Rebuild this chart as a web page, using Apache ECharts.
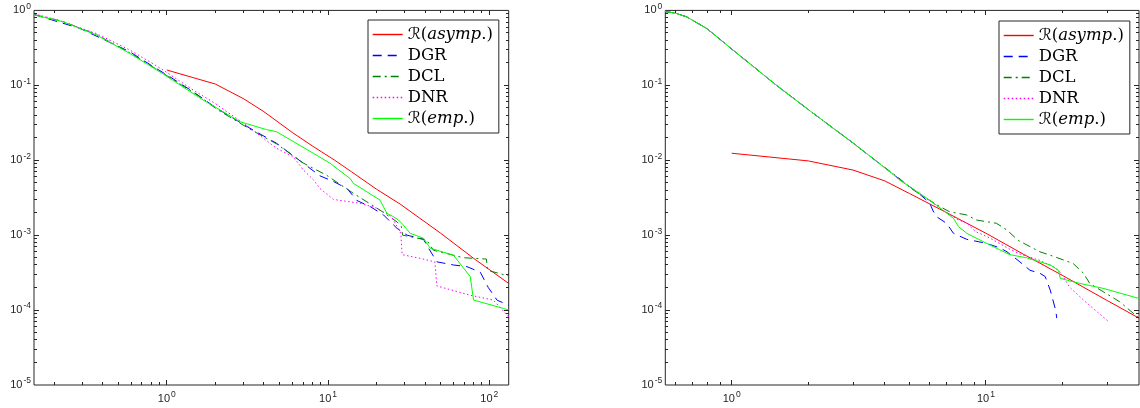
<!DOCTYPE html>
<html><head><meta charset="utf-8">
<script src="https://cdn.jsdelivr.net/npm/echarts@6/dist/echarts.min.js"></script>
<style>html,body{margin:0;padding:0;background:#fff}#c{width:1140px;height:408px}</style>
</head><body><div id="c"></div>
<script>
const seriesNames = ['ℛ(asymp.)', 'DGR', 'DCL', 'DNR', 'ℛ(emp.)'];

// ---- left panel ----
const leftAsymp = [[1,0.16],[2,0.104],[3,0.066],[4,0.0445],[6,0.0235],[8,0.0155],[11,0.0100],[14,0.0070],[20,0.0041],[28,0.0026],[50,0.00106],[80,0.00049],[132,0.000227]];
const leftDGR = [[0.15,0.88],[0.288,0.577],[0.589,0.281],[0.784,0.19],[1.044,0.13],[1.457,0.082],[2.04,0.0493],[3.28,0.0267],[4.8,0.0168],[7.03,0.0091],[8.9,0.0062],[10.8,0.0052],[13.1,0.0042],[15.1,0.0029],[18.3,0.0024],[22.1,0.00186],[26.8,0.00123],[30.9,0.001],[39.1,0.00088],[42,0.00067],[47.4,0.00044],[60,0.0004],[72.7,0.00038],[88,0.00032],[98.6,0.0002],[112,0.000135],[132,0.000117]];
const leftDCL = [[0.15,0.88],[0.227,0.71],[0.366,0.475],[0.589,0.272],[0.948,0.145],[1.68,0.066],[2.04,0.048],[3.28,0.026],[4.8,0.0165],[7,0.0092],[9.8,0.0063],[14.4,0.0036],[21,0.00216],[26.8,0.0015],[28.5,0.0013],[29,0.001],[41,0.00086],[45,0.00063],[69,0.0005],[96,0.00048],[97.5,0.00034],[132,0.000285]];
const leftDNR = [[0.15,0.9],[0.211,0.744],[0.366,0.49],[0.589,0.296],[0.784,0.206],[0.948,0.16],[1.457,0.0865],[1.99,0.0575],[3.28,0.027],[4.8,0.0144],[6.1,0.0111],[7.03,0.0074],[8.1,0.0055],[8.9,0.0042],[10.8,0.003],[15.8,0.00266],[20,0.0023],[24.8,0.00176],[28.3,0.00105],[28.8,0.00055],[37.3,0.00049],[46,0.00044],[47.3,0.00021],[76,0.000158],[106,0.000136],[132,0.000081]];
const leftEmp = [[0.15,0.87],[0.227,0.706],[0.366,0.47],[0.589,0.267],[0.948,0.142],[1.68,0.0636],[2.84,0.0327],[4.16,0.0256],[4.8,0.024],[8.1,0.0124],[10.3,0.0091],[13.7,0.0057],[14.4,0.0049],[21,0.00294],[23.2,0.00195],[25,0.0018],[27.3,0.0016],[29,0.0014],[32.3,0.00106],[39.1,0.00091],[43,0.00067],[60,0.00054],[76.2,0.00028],[79.9,0.000136],[123,0.000105],[132,0.0001]];

// ---- right panel ----
const rightAsymp = [[1,0.0124],[2,0.0098],[3,0.0074],[4,0.0053],[5,0.0036],[7,0.002],[10,0.00106],[14,0.00056],[20,0.00029],[30,0.000134],[40,0.000078]];
const rightDGR = [[0.548,0.965],[0.6,0.92],[0.665,0.82],[0.8,0.57],[0.9,0.41],[1.0,0.305],[1.5,0.10],[2.03,0.0457],[3,0.017],[4.19,0.00702],[4.6,0.0055],[5.5,0.0035],[6.0,0.0027],[6.2,0.0021],[6.4,0.00176],[7,0.00144],[7.45,0.00106],[8.4,0.00088],[10,0.00078],[11.3,0.00068],[12.1,0.0006],[13.6,0.00044],[14.9,0.00034],[16.3,0.00031],[17.1,0.00028],[17.9,0.000185],[18.8,0.0001],[19,0.000078]];
const rightDCL = [[0.548,0.965],[0.6,0.92],[0.665,0.82],[0.8,0.57],[0.9,0.41],[1.0,0.305],[1.5,0.10],[2.03,0.0457],[3,0.017],[4.19,0.0071],[4.6,0.0056],[5.03,0.0043],[5.5,0.0035],[6.6,0.0024],[7.2,0.00205],[8.4,0.00186],[9.2,0.00159],[11,0.00144],[12.1,0.00117],[13.4,0.00085],[16.3,0.0006],[17.9,0.00054],[22,0.00042],[24.2,0.00031],[25.6,0.000227],[28.9,0.000176],[33.6,0.000129],[40,0.000078]];
const rightDNR = [[0.548,0.965],[0.6,0.92],[0.665,0.82],[0.8,0.57],[0.9,0.41],[1.0,0.305],[1.5,0.10],[2.03,0.0457],[3,0.017],[4.19,0.00702],[4.6,0.0055],[5.5,0.0035],[6,0.0029],[7,0.002],[7.8,0.0016],[8.4,0.00145],[8.9,0.0012],[9.2,0.0011],[10.4,0.00091],[12.4,0.00065],[13.6,0.00056],[16.3,0.00046],[18.4,0.00038],[19.6,0.00032],[21.4,0.0002],[24.9,0.000125],[30.1,0.000072]];
const rightEmp = [[0.548,0.965],[0.6,0.92],[0.665,0.82],[0.8,0.57],[0.9,0.41],[1.0,0.305],[1.5,0.10],[2.03,0.0457],[3,0.017],[4.19,0.00702],[4.59,0.0054],[5.5,0.0036],[6.4,0.0025],[6.9,0.00205],[7.45,0.00168],[7.8,0.0013],[8.4,0.00106],[9.48,0.00086],[11.3,0.00064],[12.4,0.00055],[14.4,0.0005],[17.9,0.0004],[19.3,0.00034],[19.6,0.000265],[23.4,0.000227],[28.9,0.000195],[40,0.000143]];

// ---- axes / ticks ----
const leftXRange = [0.15, 132];
const rightXRange = [0.548, 40];
const yRange = [1e-5, 1];
const leftXDecades = [0.1, 1, 10, 100];
const rightXDecades = [0.1, 1, 10];
const yDecades = [1e-5, 1e-4, 1e-3, 1e-2, 1e-1];
const minorMultipliers = [2, 3, 4, 5, 6, 7, 8, 9];
const leftXTickExps = [0, 1, 2];
const rightXTickExps = [0, 1];
const yTickExps = [0, -1, -2, -3, -4, -5];

const colors = ['#ff0000', '#0000ff', '#008000', '#ff00ff', '#00ff00'];
const dashes = ['solid', [9, 6], [8, 4, 2, 4], [1.5, 2.5], 'solid'];
const axisColor = '#262626';
const sansFont = "'Liberation Sans', Arial, sans-serif";
const serifFont = "'DejaVu Serif', 'Liberation Serif', serif";

function expFormatter(exps) {
  return function (v) {
    const l = Math.log10(v);
    const e = Math.round(l);
    if (Math.abs(l - e) > 1e-6 || exps.indexOf(e) < 0) return '';
    return '{b|10}{s|' + e + '}';
  };
}
const labelRich = {
  b: { fontSize: 11, lineHeight: 17, fontFamily: sansFont, color: axisColor },
  s: { fontSize: 8.5, lineHeight: 9, verticalAlign: 'top', fontFamily: sansFont, color: axisColor, padding: [0, 0, 0, 1] }
};

function lineSeries(idx, arrays) {
  return arrays.map((arr, i) => ({
    type: 'line', name: seriesNames[i], xAxisIndex: idx, yAxisIndex: idx,
    data: arr, symbol: 'none', showSymbol: false, smooth: false, clip: true,
    lineStyle: { color: colors[i], width: 1, type: dashes[i] },
    itemStyle: { color: colors[i] },
    emphasis: { disabled: true }, z: 2 + i
  }));
}

function xAxisCfg(idx, xr, exps) {
  return {
    type: 'log', logBase: 10, gridIndex: idx, min: xr[0], max: xr[1],
    axisLine: { show: false }, axisTick: { show: false }, splitLine: { show: false },
    minorTick: { show: false }, minorSplitLine: { show: false },
    axisLabel: { show: true, margin: 5, formatter: expFormatter(exps), rich: labelRich, hideOverlap: false }
  };
}
function yAxisCfg(idx) {
  return {
    type: 'log', logBase: 10, gridIndex: idx, min: yRange[0], max: yRange[1],
    axisLine: { show: false }, axisTick: { show: false }, splitLine: { show: false },
    minorTick: { show: false }, minorSplitLine: { show: false },
    axisLabel: { show: true, margin: 3, formatter: expFormatter(yTickExps), rich: labelRich, hideOverlap: false }
  };
}

const legendText = {
  fontFamily: serifFont, fontSize: 16.5, lineHeight: 17, color: '#000',
  rich: {
    it: { fontFamily: serifFont, fontStyle: 'italic', fontSize: 16.5, lineHeight: 17, color: '#000' },
    cal: { fontFamily: "'DejaVu Serif', 'DejaVu Sans', serif", fontStyle: 'italic', fontSize: 16.5, lineHeight: 17, color: '#000' },
    r: { fontFamily: serifFont, fontSize: 16.5, lineHeight: 17, color: '#000' }
  }
};
function legendFormatter(name) {
  if (name.charAt(0) === 'ℛ') {
    const inner = name.slice(2, name.length - 2);
    return '{cal|ℛ}{r|(}{it|' + inner + '}{r|.)}';
  }
  return '{r|' + name + '}';
}
function legendCfg(left, top) {
  return {
    data: seriesNames, orient: 'vertical', left: left, top: top,
    itemWidth: 30, itemHeight: 10, itemGap: 4, padding: [6, 6, 6, 4],
    borderColor: axisColor, borderWidth: 1, backgroundColor: '#fff', borderRadius: 0,
    selectedMode: false, textStyle: legendText, formatter: legendFormatter,
    itemStyle: { opacity: 0, borderWidth: 0 },
    lineStyle: { width: 1.4 }, z: 30
  };
}

const chart = echarts.init(document.getElementById('c'), null, { renderer: 'canvas' });
chart.setOption({
  animation: false,
  backgroundColor: '#fff',
  grid: [
    { left: 34, top: 10.4, width: 474.7, height: 374.6, show: true, borderColor: axisColor, borderWidth: 1, backgroundColor: 'transparent', containLabel: false, outerBoundsMode: 'none' },
    { left: 665.3, top: 10.4, width: 473.7, height: 374.6, show: true, borderColor: axisColor, borderWidth: 1, backgroundColor: 'transparent', containLabel: false, outerBoundsMode: 'none' }
  ],
  xAxis: [xAxisCfg(0, leftXRange, leftXTickExps), xAxisCfg(1, rightXRange, rightXTickExps)],
  yAxis: [yAxisCfg(0), yAxisCfg(1)],
  legend: [legendCfg(368, 20), legendCfg(999, 21)],
  tooltip: { show: false },
  series: []
    .concat(lineSeries(0, [leftAsymp, leftDGR, leftDCL, leftDNR, leftEmp]))
    .concat(lineSeries(1, [rightAsymp, rightDGR, rightDCL, rightDNR, rightEmp]))
});

// ---- inward ticks on all four sides, placed through the axes' own scales ----
function tickElements(idx, xr, xDec) {
  const els = [];
  const addRect = (x, y, w, h) => els.push({
    type: 'rect', silent: true, z: 100,
    shape: { x: x, y: y, width: w, height: h },
    style: { fill: axisColor }
  });
  xDec.forEach(dec => {
    [1].concat(minorMultipliers).forEach(m => {
      const v = dec * m;
      if (!(v > xr[0] * 1.0001 && v < xr[1] * 0.9999)) return;
      const len = m === 1 ? 5 : 3;
      const pb = chart.convertToPixel({ gridIndex: idx }, [v, yRange[0]]);
      const pt = chart.convertToPixel({ gridIndex: idx }, [v, yRange[1]]);
      const x = Math.round(pb[0] - 0.5);
      addRect(x, Math.round(pb[1]) - len, 1, len);
      addRect(x, Math.round(pt[1]), 1, len);
    });
  });
  yDecades.forEach(dec => {
    [1].concat(minorMultipliers).forEach(m => {
      const v = dec * m;
      if (!(v > yRange[0] * 1.0001 && v < yRange[1] * 0.9999)) return;
      const len = m === 1 ? 5 : 3;
      const pl = chart.convertToPixel({ gridIndex: idx }, [xr[0], v]);
      const pr = chart.convertToPixel({ gridIndex: idx }, [xr[1], v]);
      const y = Math.round(pl[1] - 0.5);
      addRect(Math.round(pl[0]), y, len, 1);
      addRect(Math.round(pr[0]) - len, y, len, 1);
    });
  });
  return els;
}
const tickEls = tickElements(0, leftXRange, leftXDecades).concat(tickElements(1, rightXRange, rightXDecades));
chart.setOption({ graphic: tickEls });
</script></body></html>
